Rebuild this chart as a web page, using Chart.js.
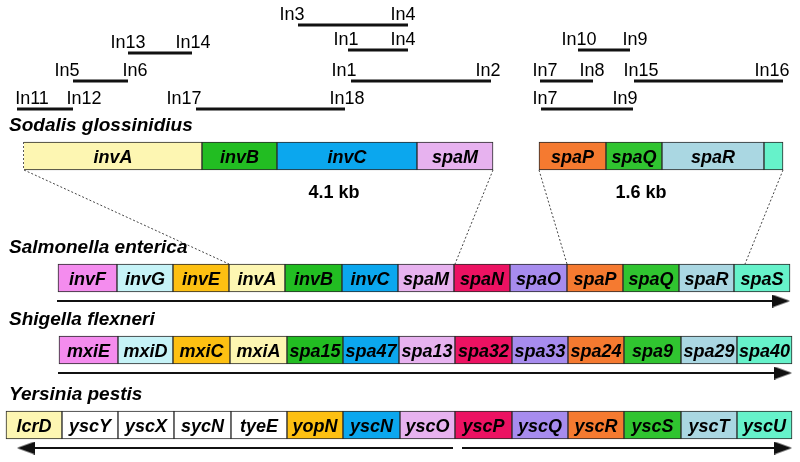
<!DOCTYPE html>
<html>
<head>
<meta charset="utf-8">
<script src="https://cdn.jsdelivr.net/npm/chart.js@4.4.1/dist/chart.umd.min.js"></script>
<style>
  html, body { margin: 0; padding: 0; background: #fff; }
  #wrap { width: 800px; height: 462px; }
</style>
</head>
<body>
<div id="wrap"><canvas id="geneMap" width="800" height="462"></canvas></div>
<script>
// --- data -------------------------------------------------------------

// organisms, top to bottom, and the map row each one sits on
const rowNames = ['Sodalis glossinidius', 'Salmonella enterica', 'Shigella flexneri', 'Yersinia pestis'];
const rowPositions = [156, 278, 350, 425];

// Sodalis: two sequenced fragments, given as [start, end] per gene
const sodalisGenes = ['invA', 'invB', 'invC', 'spaM', 'spaP', 'spaQ', 'spaR', ''];
const sodalisFamilies = ['invA', 'invB', 'invC', 'spaM', 'spaP', 'spaQ', 'spaR', 'spaS'];
const sodalisSpans = [[24, 202], [202, 277], [277, 417], [417, 493], [539, 606], [606, 662], [662, 764], [764, 783]];

// the other loci are contiguous, so gene boundaries are enough
const salmonellaGenes = ['invF', 'invG', 'invE', 'invA', 'invB', 'invC', 'spaM', 'spaN', 'spaO', 'spaP', 'spaQ', 'spaR', 'spaS'];
const salmonellaEdges = [58, 117, 173, 229, 285, 342, 398, 454, 510, 567, 623, 679, 734, 790];

const shigellaGenes = ['mxiE', 'mxiD', 'mxiC', 'mxiA', 'spa15', 'spa47', 'spa13', 'spa32', 'spa33', 'spa24', 'spa9', 'spa29', 'spa40'];
const shigellaEdges = [59, 118, 173, 230, 287, 343, 399, 455, 512, 568, 624, 681, 737, 792];

const yersiniaGenes = ['lcrD', 'yscY', 'yscX', 'sycN', 'tyeE', 'yopN', 'yscN', 'yscO', 'yscP', 'yscQ', 'yscR', 'yscS', 'yscT', 'yscU'];
const yersiniaFamilies = ['invA', null, null, null, null, 'invE', 'invC', 'spaM', 'spaN', 'spaO', 'spaP', 'spaQ', 'spaR', 'spaS'];
const yersiniaEdges = [6, 62, 118, 174, 231, 287, 343, 400, 455, 512, 568, 624, 681, 737, 792];

// PCR primer pairs above the Sodalis map
const primerFrom  = ['In3', 'In1', 'In13', 'In5', 'In1', 'In11', 'In17', 'In10', 'In7', 'In15', 'In7'];
const primerTo    = ['In4', 'In4', 'In14', 'In6', 'In2', 'In12', 'In18', 'In9', 'In8', 'In16', 'In9'];
const primerStart = [298, 348, 128, 73, 351, 17, 196, 578, 540, 634, 541];
const primerEnd   = [408, 408, 192, 128, 491, 73, 345, 630, 593, 783, 633];
const primerLevel = [25, 50, 53, 81, 81, 109, 109, 50, 81, 81, 109];

// fragment sizes under the Sodalis map
const fragmentSizes = ['4.1 kb', '1.6 kb'];
const fragmentLabelAt = [334, 641];

// dotted lines linking Sodalis fragments to the Salmonella locus
const linkFromSodalis = [24, 493, 539, 783];
const linkToSalmonella = [229, 455, 567, 745];

// transcription arrows: row index, from, to
const arrowRow  = [1, 2, 3, 3];
const arrowFrom = [57, 58, 453, 462];
const arrowTo   = [790, 792, 17, 792];

// --- style ------------------------------------------------------------

const familyColors = {
    invF: '#f48cee', invG: '#c6f3f7', invE: '#fdc012', invA: '#fdf6b2',
    invB: '#22bd22', invC: '#0ba7ee', spaM: '#e7b2ef', spaN: '#ec1262',
    spaO: '#a78cee', spaP: '#f57a30', spaQ: '#30c430', spaR: '#aad7e2',
    spaS: '#66f2ca'
};
const FONT = '"Liberation Sans", Arial, sans-serif';
const BOX_H = 28;
// small sideways shifts of the primer names, in px, so they sit as in the figure
const fromNudge = [-6, -2, 0, -6, -7, 15, -12, 1, 5, 7, 4];
const toNudge   = [-5, -5, 1, 7, -3, 11, 2, 5, -1, -11, -8];

// arrow head used as a point style
const head = document.createElement('canvas');
head.width = 18;
head.height = 13;
const hctx = head.getContext('2d');
hctx.fillStyle = '#111';
hctx.beginPath();
hctx.moveTo(0, 0);
hctx.lineTo(18, 6.5);
hctx.lineTo(0, 13);
hctx.closePath();
hctx.fill();

// --- datasets ---------------------------------------------------------

const toSpans = edges => edges.slice(0, -1).map((e, i) => [e, edges[i + 1]]);

const geneRow = (row, names, spans, families, skipped) => ({
    type: 'bar',
    label: rowNames[row],
    indexAxis: 'y',
    grouped: false,
    barThickness: BOX_H,
    data: spans.map(s => ({ x: s, y: rowPositions[row] })),
    geneNames: names,
    backgroundColor: families.map(f => f ? familyColors[f] : '#ffffff'),
    borderColor: '#2a2a2a',
    borderWidth: 1,
    borderSkipped: skipped || false
});

const segment = (x1, y1, x2, y2, style) => Object.assign({
    type: 'line',
    data: [{ x: x1, y: y1 }, { x: x2, y: y2 }],
    pointRadius: 0,
    fill: false,
    tension: 0
}, style);

const datasets = [
    geneRow(0, sodalisGenes, sodalisSpans, sodalisFamilies, ctx => ctx.dataIndex === 0 ? 'left' : false),
    geneRow(1, salmonellaGenes, toSpans(salmonellaEdges), salmonellaGenes),
    geneRow(2, shigellaGenes, toSpans(shigellaEdges), salmonellaGenes),
    geneRow(3, yersiniaGenes, toSpans(yersiniaEdges), yersiniaFamilies)
];

// dotted open left end of the Sodalis contig
datasets.push(segment(sodalisSpans[0][0], rowPositions[0] - BOX_H / 2, sodalisSpans[0][0], rowPositions[0] + BOX_H / 2,
    { borderColor: '#222', borderWidth: 1.5, borderDash: [2, 2] }));

linkFromSodalis.forEach((x, i) => {
    datasets.push(segment(x, rowPositions[0] + BOX_H / 2, linkToSalmonella[i], rowPositions[1] - BOX_H / 2,
        { borderColor: '#444', borderWidth: 1, borderDash: [2, 2] }));
});

primerStart.forEach((x, i) => {
    datasets.push(segment(x, primerLevel[i], primerEnd[i], primerLevel[i],
        { borderColor: '#111', borderWidth: 3 }));
});

arrowFrom.forEach((x, i) => {
    const dir = arrowTo[i] > x ? 1 : -1;
    const y = rowPositions[arrowRow[i]] + 23;
    datasets.push(segment(x, y, arrowTo[i] - dir * head.width / 2, y, {
        borderColor: '#111',
        borderWidth: 2,
        pointStyle: head,
        pointRadius: [0, 9],
        pointRotation: dir > 0 ? 0 : 180
    }));
});

// --- text -------------------------------------------------------------

const mapText = {
    id: 'mapText',
    afterDatasetsDraw(chart) {
        const { ctx, scales: { x, y } } = chart;
        ctx.save();
        ctx.fillStyle = '#000';
        ctx.textBaseline = 'alphabetic';

        // gene names, centred in each box
        ctx.font = 'italic bold 18px ' + FONT;
        ctx.textAlign = 'center';
        chart.data.datasets.forEach((ds, i) => {
            if (!ds.geneNames) return;
            chart.getDatasetMeta(i).data.forEach((bar, j) => {
                ctx.fillText(ds.geneNames[j], (bar.x + bar.base) / 2, bar.y + 6.5);
            });
        });

        // organism names
        ctx.font = 'italic bold 19px ' + FONT;
        ctx.textAlign = 'left';
        rowNames.forEach((name, i) => {
            ctx.fillText(name, x.getPixelForValue(9), y.getPixelForValue(rowPositions[i] - BOX_H / 2 - 11));
        });

        // fragment sizes
        ctx.font = 'bold 18px ' + FONT;
        ctx.textAlign = 'center';
        fragmentSizes.forEach((t, i) => {
            ctx.fillText(t, x.getPixelForValue(fragmentLabelAt[i]), y.getPixelForValue(rowPositions[0] + 42));
        });

        // primer names at both ends of each amplicon
        ctx.font = '18px ' + FONT;
        primerStart.forEach((s, i) => {
            const base = y.getPixelForValue(primerLevel[i] - 5);
            ctx.fillText(primerFrom[i], x.getPixelForValue(s) + fromNudge[i], base);
            ctx.fillText(primerTo[i], x.getPixelForValue(primerEnd[i]) + toNudge[i], base);
        });
        ctx.restore();
    }
};

new Chart(document.getElementById('geneMap'), {
    type: 'line',
    data: { datasets },
    options: {
        responsive: false,
        animation: false,
        events: [],
        layout: { padding: 0, autoPadding: false },
        plugins: { legend: { display: false }, tooltip: { enabled: false } },
        scales: {
            x: { type: 'linear', min: 0, max: 800, offset: false, display: false },
            y: { type: 'linear', min: 0, max: 462, offset: false, reverse: true, display: false }
        }
    },
    plugins: [mapText]
});
</script>
</body>
</html>
